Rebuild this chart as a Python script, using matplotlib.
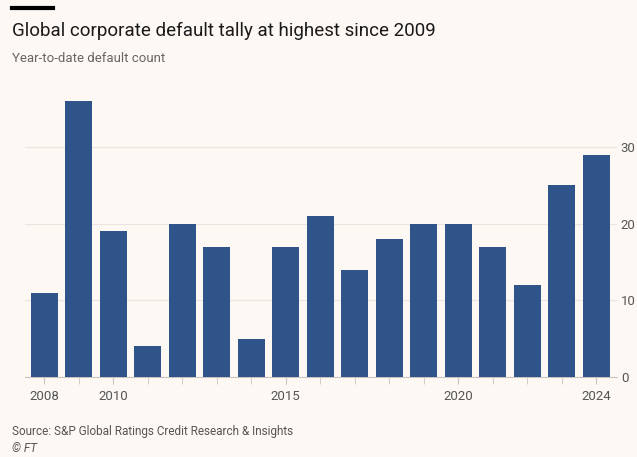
import matplotlib.pyplot as plt
from matplotlib.ticker import MultipleLocator

years = list(range(2008, 2025))
defaults = [11, 36, 19, 4, 20, 17, 5, 17, 21, 14, 18, 20, 20, 17, 12, 25, 29]
year_labels = [2008, 2010, 2015, 2020, 2024]

bg = '#fdf8f4'
bar_col = '#2e5489'
plt.rcParams['font.family'] = ['Roboto', 'DejaVu Sans']

fig = plt.figure(figsize=(6.37, 4.57), dpi=100, facecolor=bg)
ax = fig.add_axes([0.039, 0.175, 0.929, 0.638], facecolor=bg)

ax.bar(years, defaults, width=0.78, color=bar_col, zorder=3)

ax.set_xlim(2007.435, 2024.59)
ax.set_ylim(0, 38)
ax.yaxis.tick_right()
ax.set_yticks([0, 10, 20, 30])
ax.grid(axis='y', color='#ebe5e0', linewidth=0.8, zorder=0)
for s in ['top', 'left', 'right']:
    ax.spines[s].set_visible(False)
ax.spines['bottom'].set_color('#c9c4c0')
ax.spines['bottom'].set_linewidth(0.8)
ax.tick_params(axis='y', length=0, pad=3, labelsize=9.5, labelcolor='#555555')
ax.set_xticks(year_labels)
ax.set_xticklabels([str(y) for y in year_labels])
ax.xaxis.set_minor_locator(MultipleLocator(1))
ax.tick_params(axis='x', which='major', length=5, color='#c9c4c0', labelsize=9.5,
               labelcolor='#555555', pad=4)
ax.tick_params(axis='x', which='minor', length=5, color='#c9c4c0')

fig.add_artist(plt.Line2D([12 / 637, 53 / 637], [1 - 8 / 457, 1 - 8 / 457],
                          color='black', linewidth=3, transform=fig.transFigure))
fig.text(12 / 637, 1 - 31 / 457, 'Global corporate default tally at highest since 2009',
         fontsize=13.5, color='#1a1a1a', va='center')
fig.text(12 / 637, 1 - 58 / 457, 'Year-to-date default count',
         fontsize=9.5, color='#666666', va='center')
fig.text(12 / 637, 1 - 432 / 457, 'Source: S&P Global Ratings Credit Research & Insights',
         fontsize=8.5, color='#555555', va='center')
fig.text(12 / 637, 1 - 448 / 457, '© FT', fontsize=8.5, color='#555555',
         va='center', style='italic')

fig.savefig('out.png', dpi=100, facecolor=bg)
